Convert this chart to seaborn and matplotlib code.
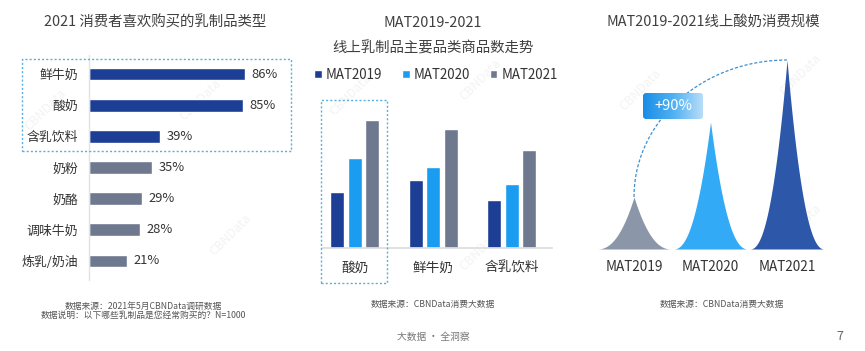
import numpy as np
import pandas as pd
import matplotlib
matplotlib.use('Agg')
import matplotlib.pyplot as plt
import seaborn as sns
from matplotlib.patches import Rectangle, FancyBboxPatch
from matplotlib.colors import LinearSegmentedColormap

# ---------------- data ----------------
pref_categories = ['鲜牛奶', '酸奶', '含乳饮料', '奶粉', '奶酪', '调味牛奶', '炼乳/奶油']
pref_values = [86, 85, 39, 35, 29, 28, 21]
pref_highlight = [True, True, True, False, False, False, False]

trend_categories = ['酸奶', '鲜牛奶', '含乳饮料']
trend_years = ['MAT2019', 'MAT2020', 'MAT2021']
trend_2019 = [56, 68, 48]
trend_2020 = [90, 81, 64]
trend_2021 = [128, 119, 98]

scale_years = ['MAT2019', 'MAT2020', 'MAT2021']
scale_values = [52, 127, 189]
growth_label = '+90%'

# ---------------- setup ----------------
W, H = 865, 351
sns.set_theme(style='white')
plt.rcParams['font.family'] = ['Noto Sans CJK SC', 'DejaVu Sans']
fig = plt.figure(figsize=(8.65, 3.51), dpi=100)
fig.patch.set_facecolor('white')

TXT = '#333333'
DARK = '#1c3e94'
LIGHT = '#1a9df0'
GRAY = '#6e7990'


def rect(x0, y0, x1, y1):
    return [x0 / W, 1 - y1 / H, (x1 - x0) / W, (y1 - y0) / H]


def fx(x):
    return x / W


def fy(y):
    return 1 - y / H


def dashed_box(x0, y0, x1, y1):
    fig.add_artist(Rectangle((fx(x0), fy(y1)), (x1 - x0) / W, (y1 - y0) / H,
                             transform=fig.transFigure, fill=False,
                             ec='#5aafdc', lw=1.0, ls=(0, (1.5, 1.5)), zorder=5))


# faint watermarks
for (wx, wy) in [(200, 100), (230, 235), (45, 110),
                 (350, 95), (480, 80), (480, 250),
                 (640, 90), (800, 75), (800, 225)]:
    fig.text(fx(wx), fy(wy), 'CBNData', rotation=45, color='#f3f3f3',
             fontsize=9, ha='center', va='center', zorder=-1)

# ---------------- panel 1 ----------------
ax1 = fig.add_axes(rect(89, 55, 270.4, 280))
ax1.set_facecolor('none')
df1 = pd.DataFrame({'cat': pref_categories, 'val': pref_values,
                    'grp': ['hi' if h else 'lo' for h in pref_highlight]})
sns.barplot(data=df1, x='val', y='cat', hue='grp', orient='h',
            palette={'hi': DARK, 'lo': GRAY}, dodge=False, width=0.41,
            saturation=1, legend=False, ax=ax1)
ax1.set_xlim(0, 100)
ax1.set_ylim(6.61, -0.61)
for s in ['top', 'right', 'bottom']:
    ax1.spines[s].set_visible(False)
ax1.spines['left'].set_color('#e3e3e3')
ax1.spines['left'].set_linewidth(1)
ax1.set_xticks([])
ax1.set_xlabel('')
ax1.set_ylabel('')
ax1.tick_params(axis='y', length=0, pad=8, labelsize=9.3, labelcolor=TXT)
for i, v in enumerate(pref_values):
    ax1.text(v + 3.6, i, f'{v}%', va='center', ha='left', fontsize=9.3, color=TXT)

fig.text(fx(155), fy(22), '2021 消费者喜欢购买的乳制品类型', ha='center', va='center',
         fontsize=10.4, color='#404040')
dashed_box(22, 59, 291, 151)
fig.text(fx(143), fy(306), '数据来源：2021年5月CBNData调研数据', ha='center', va='center',
         fontsize=6.3, color='#555555')
fig.text(fx(143), fy(315.5), '数据说明：以下哪些乳制品是您经常购买的？N=1000', ha='center', va='center',
         fontsize=6.3, color='#555555')

# ---------------- panel 2 ----------------
ax2 = fig.add_axes(rect(322, 100, 552, 248))
ax2.set_facecolor('none')
df2 = pd.DataFrame({
    'cat': trend_categories * 3,
    'year': [trend_years[0]] * 3 + [trend_years[1]] * 3 + [trend_years[2]] * 3,
    'val': trend_2019 + trend_2020 + trend_2021,
})
sns.barplot(data=df2, x='cat', y='val', hue='year', hue_order=trend_years,
            palette=[DARK, LIGHT, GRAY], width=0.669, gap=0.2, saturation=1, ax=ax2)
ax2.set_xlim(-0.42, 2.51)
ax2.set_ylim(0, 148)
for s in ['top', 'right', 'left']:
    ax2.spines[s].set_visible(False)
ax2.spines['bottom'].set_color('#dddddd')
ax2.set_yticks([])
ax2.set_xlabel('')
ax2.set_ylabel('')
ax2.tick_params(axis='x', length=0, pad=9, labelsize=9.8, labelcolor=TXT)
handles, labels = ax2.get_legend_handles_labels()
leg = ax2.legend(handles, labels, loc='center', bbox_to_anchor=(fx(436), fy(75)),
                 bbox_transform=fig.transFigure, ncol=3, frameon=False, fontsize=9.6,
                 handlelength=0.55, handleheight=0.55, handletextpad=0.3,
                 columnspacing=1.5, borderpad=0, borderaxespad=0)
for t in leg.get_texts():
    t.set_color(TXT)

fig.text(fx(433), fy(23), 'MAT2019-2021', ha='center', va='center', fontsize=10.4, color='#404040')
fig.text(fx(433), fy(48), '线上乳制品主要品类商品数走势', ha='center', va='center',
         fontsize=10.4, color='#404040')
dashed_box(321, 100, 387, 283)
fig.text(fx(433), fy(305), '数据来源：CBNData消费大数据', ha='center', va='center',
         fontsize=6.3, color='#555555')
fig.text(fx(433), fy(337), '大数据 · 全洞察', ha='center', va='center',
         fontsize=7, color='#777777')

# ---------------- panel 3 ----------------
ax3 = fig.add_axes(rect(590, 50, 830, 249))
ax3.set_facecolor('none')
spike_colors = ['#8b96a8', '#33aaf5', '#2d57a8']
half = 0.49
u = np.linspace(-half, half, 600)
for i, (h, c) in enumerate(zip(scale_values, spike_colors)):
    y = h * (1 - np.abs(u) / half) ** 2.3
    ax3.fill_between(i + u, 0, y, color=c, lw=0, zorder=2)
# dashed growth arc from first to last peak
t = np.linspace(0, np.pi / 2, 200)
ax3.plot(2 - 2 * np.cos(t), scale_values[0] + (scale_values[2] - scale_values[0]) * np.sin(t),
         color='#3d8fd0', lw=0.9, ls=(0, (2.5, 1.5)), zorder=1)
ax3.set_xlim((590 - 634) / 76.5, (830 - 634) / 76.5)
ax3.set_ylim(0, 199)
for s in ax3.spines.values():
    s.set_visible(False)
ax3.set_yticks([])
ax3.set_xticks(range(len(scale_years)))
ax3.set_xticklabels(scale_years)
ax3.tick_params(axis='x', length=0, pad=8, labelsize=9.8, labelcolor=TXT)

# +90% gradient badge
axb = fig.add_axes(rect(643, 93, 703, 119))
axb.set_axis_off()
cmap = LinearSegmentedColormap.from_list('g', ['#1a8de6', '#4fb0f2', '#b8ddf8'])
img = axb.imshow(np.linspace(0, 1, 256).reshape(1, -1), cmap=cmap, aspect='auto',
                 extent=[0, 1, 0, 1])
axb.set_xlim(0, 1)
axb.set_ylim(0, 1)
clip = FancyBboxPatch((0, 0), 1, 1, boxstyle='round,pad=0,rounding_size=0.05',
                      mutation_aspect=2.3, transform=axb.transAxes, fc='none', ec='none')
axb.add_patch(clip)
img.set_clip_path(clip)
axb.text(0.5, 0.5, growth_label, ha='center', va='center', color='white', fontsize=10.5)

fig.text(fx(713), fy(22), 'MAT2019-2021线上酸奶消费规模', ha='center', va='center',
         fontsize=10.4, color='#404040')
fig.text(fx(722), fy(305), '数据来源：CBNData消费大数据', ha='center', va='center',
         fontsize=6.3, color='#555555')
fig.text(fx(840), fy(337), '7', ha='center', va='center', fontsize=9, color='#666666')

fig.savefig('out.png', dpi=100, facecolor='white')
